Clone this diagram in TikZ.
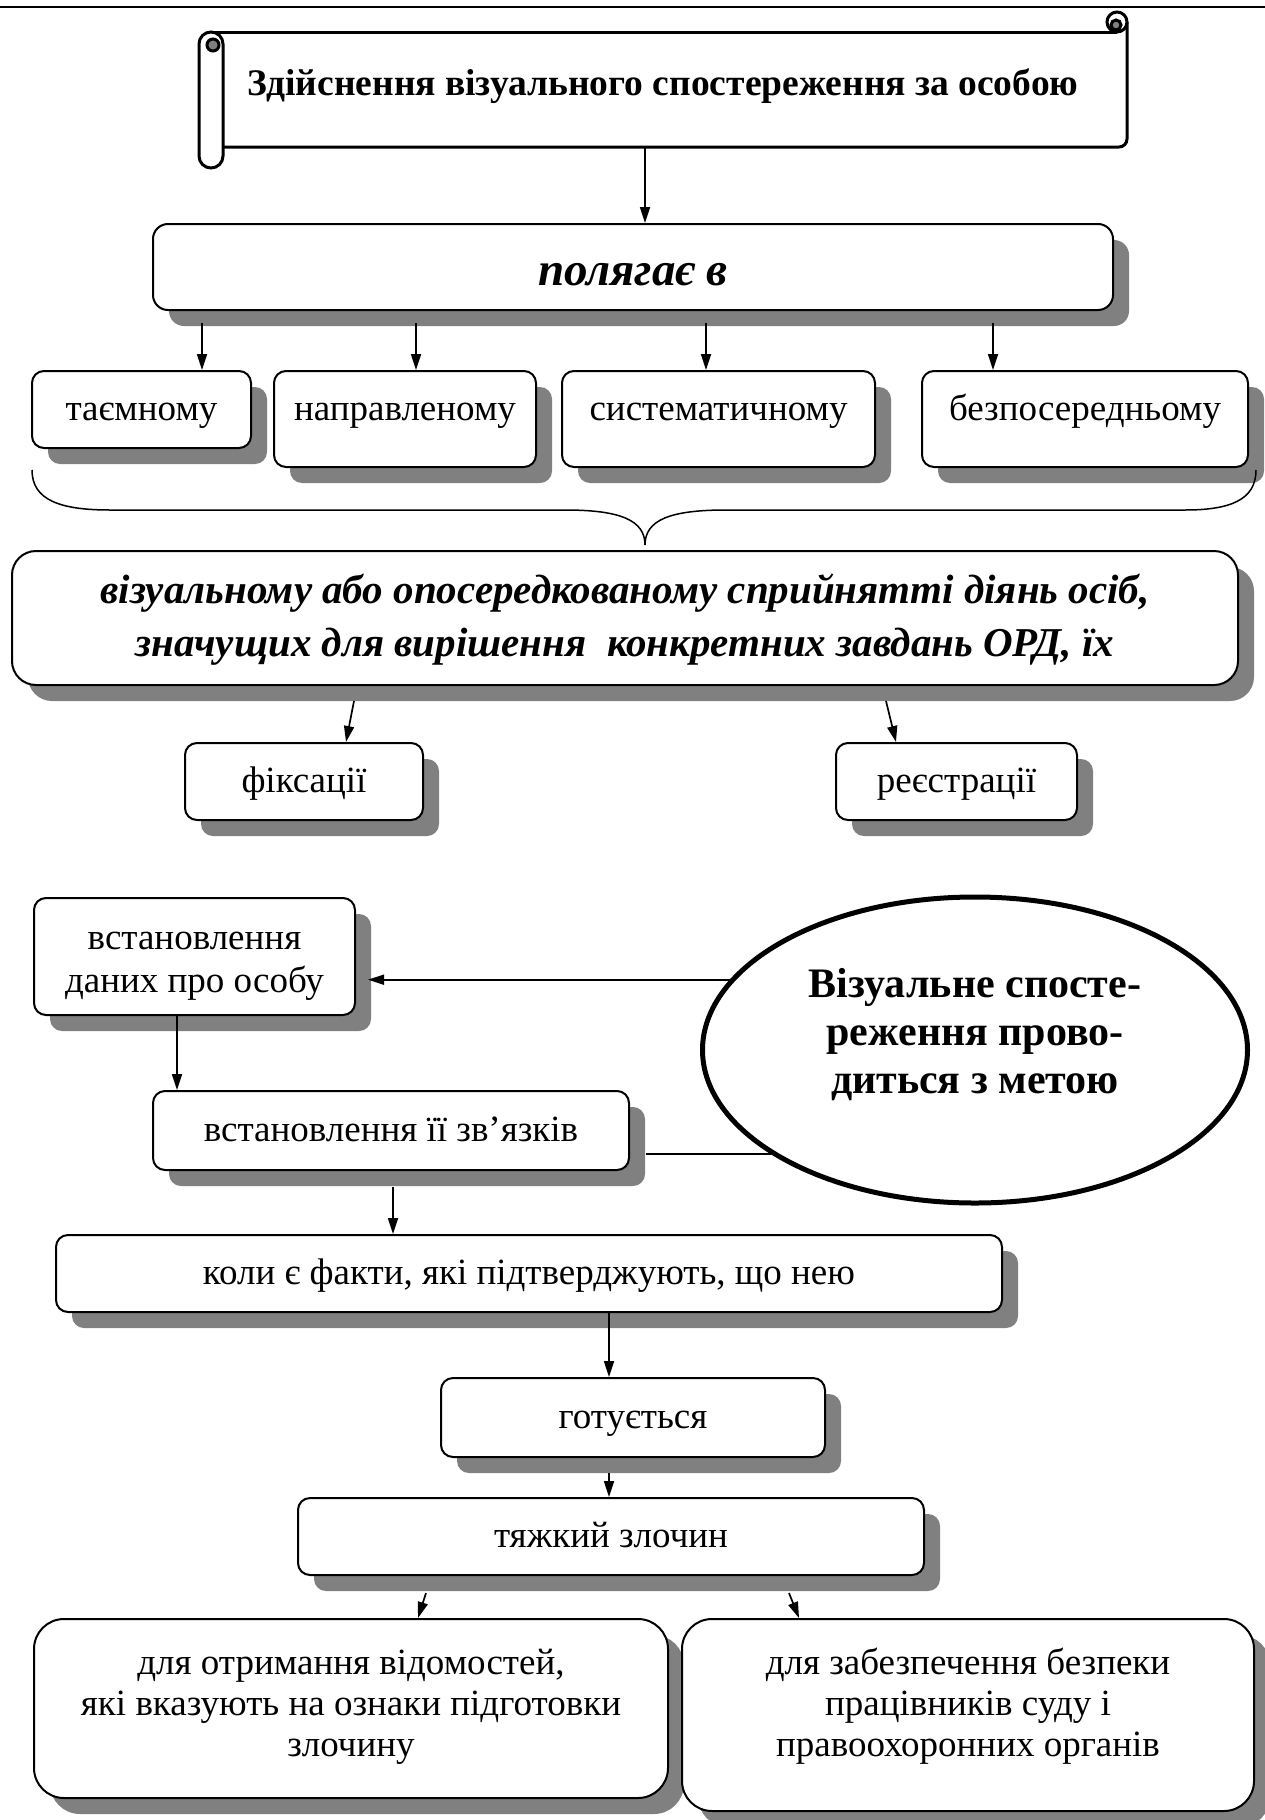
\documentclass[tikz,border=0pt]{standalone}
\usepackage{fontspec}
\setmainfont{Liberation Serif}
\usetikzlibrary{arrows.meta,calc,shapes.geometric,shadows}
\definecolor{ink}{HTML}{000000}
\definecolor{shade}{HTML}{808080}
\tikzset{
  >={Triangle[length=16pt,width=10pt]},
  every node/.style={font=\fontsize{37}{42}\selectfont,text=ink},
  box/.style={draw=ink,line width=2pt,rounded corners=12pt,fill=white,align=center,inner sep=0pt,
    text height=27pt,text depth=5pt,
    drop shadow={shadow xshift=16pt,shadow yshift=-16pt,fill=shade,opacity=1}},
  tallbox/.style={box,minimum height=96pt,text height=49pt,text depth=47pt},
  bigbox/.style={box,rounded corners=30pt,font=\fontsize{37}{41}\selectfont},
  italicbox/.style={box,rounded corners=24pt,text height=,text depth=5pt,
    font=\fontsize{41}{53}\selectfont\bfseries\itshape},
  goal/.style={ellipse,draw=ink,line width=5pt,fill=white,align=center,inner sep=0pt,
    minimum width=545pt,minimum height=306pt,text depth=38pt,font=\fontsize{42}{48}\selectfont\bfseries},
  headline/.style={align=center,inner sep=0pt,font=\fontsize{37.5}{44}\selectfont\bfseries},
  scroll/.style={draw=ink,line width=3pt},
  arrow/.style={->,line width=1.7pt,draw=ink},
  link/.style={line width=1.7pt,draw=ink},
}

\begin{document}
\begin{tikzpicture}[x=1pt,y=-1pt]
  \path[use as bounding box,fill=white] (0,0) rectangle (1265,1820);
  \draw[line width=2.5pt] (0,7) -- (1265,7);

  % scroll with the heading
  \draw[scroll,rounded corners=8pt] (223,147) -- (1127,147) -- (1127,22);
  \draw[scroll] (211,32) -- (1117,32);
  \draw[scroll,fill=white] (1117,22) circle[radius=10];
  \filldraw[scroll,fill=shade] (1116,25) circle[radius=5];
  \draw[scroll,fill=white,rounded corners=12pt] (199,32) rectangle (223,168);
  \filldraw[scroll,fill=shade] (213,45) circle[radius=6];
  \node[headline] (title) at (663,86) {Здійснення візуального спостереження за особою};
  \coordinate (scrollbot) at (645,147);

  \node[box,minimum width=960pt,minimum height=86pt,rounded corners=15pt,text height=38pt,text depth=2pt,
    font=\fontsize{47}{52}\selectfont\bfseries\itshape] (polyagae) at (633,267) {полягає в};
  \draw[arrow] (scrollbot) -- (scrollbot |- polyagae.north);

  \node[box,minimum width=219pt,minimum height=77pt] (tayemnomu) at (141.5,409.5) {таємному};
  \node[tallbox,minimum width=262pt] (napravlenomu) at (405,419) {направленому};
  \node[tallbox,minimum width=313pt] (systematychnomu) at (718.5,419) {систематичному};
  \node[tallbox,minimum width=326pt] (bezposerednomu) at (1085,419) {безпосередньому};
  \foreach \tgt/\dx in {tayemnomu/60.5,napravlenomu/11,systematychnomu/-12.5,bezposerednomu/-92}
    \draw[arrow] ($(\tgt.north |- polyagae.south)+(\dx,12)$) -- ($(\tgt.north)+(\dx,0)$);

  % brace under the four kinds
  \draw[line width=1.5pt] (32,470) .. controls (32,500) and (60,510) .. (110,510) -- (565,510)
    .. controls (620,510) and (645,520) .. (645,545) .. controls (645,520) and (670,510) .. (726,510)
    -- (1185,510) .. controls (1230,510) and (1256,500) .. (1256,470);

  \node[italicbox,minimum width=1226pt,minimum height=134pt] (sprynyattya) at (625,618)
    {візуальному або опосередкованому сприйнятті діянь осіб,\\значущих для вирішення\ \ конкретних завдань ОРД, їх};

  \node[box,minimum width=238pt,minimum height=77pt] (fiksatsii) at (304,781.5) {фіксації};
  \node[box,minimum width=241pt,minimum height=77pt] (reyestratsii) at (956.5,781.5) {реєстрації};
  \draw[arrow] ($(sprynyattya.south)+(-271,15)$) -- ($(fiksatsii.north)+(42,0)$);
  \draw[arrow] ($(sprynyattya.south)+(261,15)$) -- ($(reyestratsii.north)+(-60.5,0)$);

  % aims of the observation
  \node[box,minimum width=321pt,minimum height=117pt,text height=74pt,text depth=2pt,
    font=\fontsize{37}{43}\selectfont] (dani) at (194.5,956.5) {встановлення\\даних про особу};
  \node[goal] (meta) at (975,1050) {Візуальне спосте-\\реження прово-\\диться з метою};
  \node[box,minimum width=476pt,minimum height=79pt] (zvyazky) at (391,1130.5) {встановлення її зв’язків};
  \coordinate (daniR) at ($(dani.east)+(12,0)$);
  \coordinate (zvyazkyR) at ($(zvyazky.east)+(16,0)$);
  \draw[arrow] (meta.164) -- (meta.164 -| daniR);
  \draw[link] (meta.207) -- (meta.207 -| zvyazkyR);
  \draw[arrow] ($(dani.south)+(-17.5,0)$) -- ($(zvyazky.north -| dani.south)+(-17.5,0)$);

  \node[box,minimum width=946pt,minimum height=77pt] (koly) at (529,1273.5) {коли є факти, які підтверджують, що нею};
  \draw[arrow] ($(zvyazky.south)+(2,16)$) -- ($(koly.north -| zvyazky.south)+(2,0)$);
  \node[box,minimum width=384pt,minimum height=79pt] (gotuyetsya) at (633,1417.5) {готується};
  \draw[arrow] ($(koly.south)+(80,0)$) -- ($(gotuyetsya.north)+(-24,0)$);
  \node[box,minimum width=626pt,minimum height=77pt] (tyazhkyi) at (611,1536.5) {тяжкий злочин};
  \draw[arrow] ($(gotuyetsya.south)+(-24,15)$) -- ($(tyazhkyi.north)+(-2,0)$);

  \node[bigbox,minimum width=634pt,minimum height=179pt,text height=102pt,text depth=7pt] (vidomosti) at (351,1708.5)
    {для отримання відомостей,\\які вказують на ознаки підготовки\\злочину};
  \node[bigbox,minimum width=572pt,minimum height=192pt,text height=102pt,text depth=20pt] (bezpeka) at (968,1715)
    {для забезпечення безпеки\\працівників суду і\\правоохоронних органів};
  \draw[arrow] ($(tyazhkyi.south)+(-185,17)$) -- ($(vidomosti.north)+(67,0)$);
  \draw[arrow] ($(tyazhkyi.south)+(178,17)$) -- ($(bezpeka.north)+(-169,0)$);
\end{tikzpicture}
\end{document}
